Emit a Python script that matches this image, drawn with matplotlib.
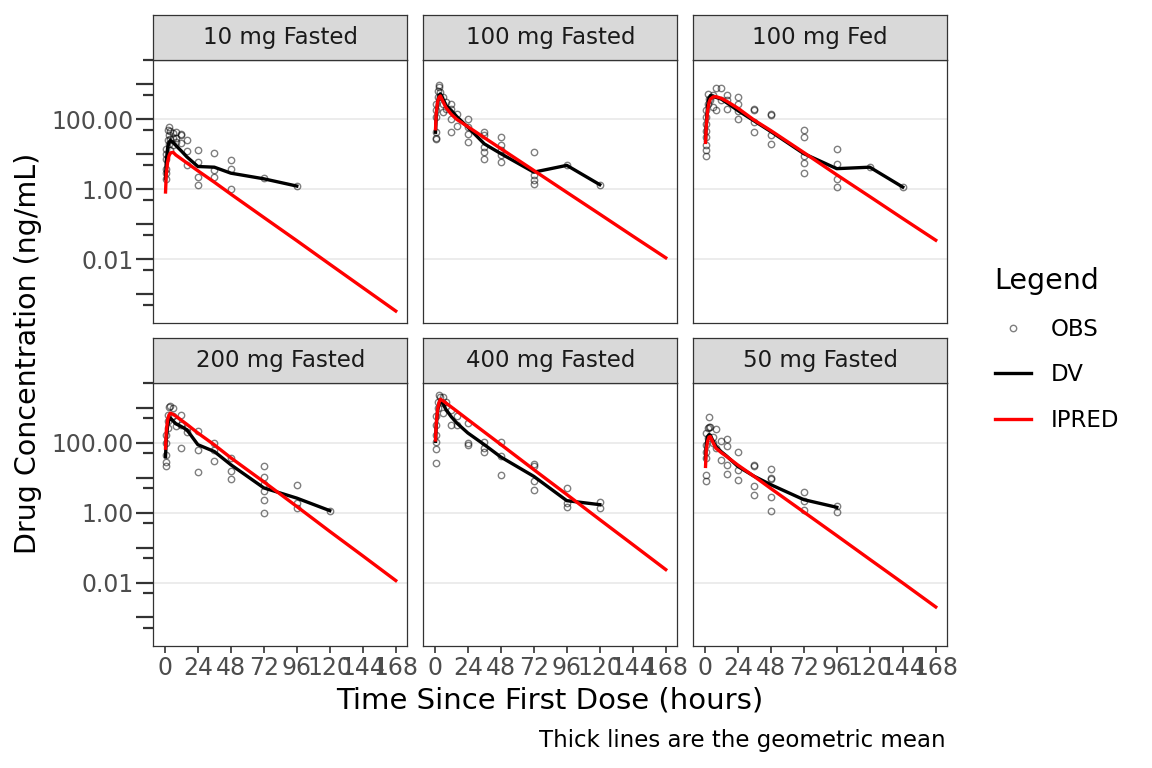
import matplotlib
matplotlib.use('Agg')
import matplotlib.pyplot as plt
from matplotlib.lines import Line2D

# facet order as in the reference
panels = ['10 mg Fasted', '100 mg Fasted', '100 mg Fed',
          '200 mg Fasted', '400 mg Fasted', '50 mg Fasted']

x_ticks = [0, 24, 48, 72, 96, 120, 144, 168]
y_labelled = [0.01, 1, 100]
y_decades = [1e-3, 1e-2, 1e-1, 1, 10, 100, 1000]
y_halves = [5e-4, 5e-3, 5e-2, 0.5, 5, 50, 500, 5000]

# individual predictions (geometric mean), common time grid
ipred_time = [0.5, 1, 2, 3, 4, 6, 8, 12, 16, 24, 36, 48, 72, 96, 120, 144, 168]
ipred_10_fasted = [0.84, 2.5, 6, 9, 11, 11.5, 9.6, 7.4, 5.7, 3.4, 1.6, 0.73,
                   0.157, 0.034, 0.0072, 0.00154, 0.00033]
ipred_100_fasted = [54, 150, 320, 430, 470, 320, 220, 140, 100, 62, 30, 14.6,
                    3.47, 0.82, 0.195, 0.046, 0.011]
ipred_100_fed = [22, 60, 180, 300, 380, 440, 450, 400, 330, 210, 95, 48,
                 11.3, 2.6, 0.62, 0.146, 0.035]
ipred_200_fasted = [70, 200, 450, 620, 700, 650, 575, 440, 336, 190, 87, 37,
                    7.6, 1.5, 0.29, 0.058, 0.0114]
ipred_400_fasted = [120, 350, 900, 1400, 1750, 1580, 1380, 1050, 800, 460, 202, 89,
                    17, 3.3, 0.63, 0.122, 0.0235]
ipred_50_fasted = [21, 60, 110, 145, 150, 100, 70, 52, 40, 23, 10.8, 4.9,
                   1.04, 0.22, 0.046, 0.0097, 0.002]

# observed geometric mean (DV), truncated at last observation
dv_time = [0.5, 1, 2, 3, 4, 6, 8, 12, 16, 24, 36, 48, 72, 96, 120, 144]
dv_10_fasted = [2.0, 6, 15, 22, 25, 22, 18, 12.5, 8.5, 4.5, 4.3, 2.9, 2.0, 1.24]
dv_100_fasted = [43, 120, 300, 480, 540, 380, 250, 180, 120, 60, 20, 10.5, 3.1, 4.85, 1.36]
dv_100_fed = [25, 70, 250, 400, 480, 470, 430, 380, 300, 180, 90, 45, 10.5, 3.9, 4.3, 1.16]
dv_200_fasted = [40, 120, 300, 450, 510, 420, 350, 290, 235, 88, 56, 23.5, 5.1, 2.6, 1.14]
dv_400_fasted = [110, 300, 800, 1300, 1700, 1300, 900, 550, 365, 190, 88, 39, 10.9, 2.2, 1.69]
dv_50_fasted = [36, 90, 150, 170, 165, 110, 78, 55, 41, 21, 10.9, 6.3, 2.35, 1.42]

# individual observations (time, concentration)
obs_10_fasted = [(0.5, 2.0), (0.5, 3.9), (0.5, 3.0), (1, 7.5), (1, 14.5), (1, 10),
                 (2, 25), (2, 51), (3, 20), (3, 35), (3, 60), (4, 48), (4, 13), (4, 28),
                 (6, 30), (6, 40), (6, 18), (8, 22.5), (8, 45), (8, 30), (12, 35), (12, 21),
                 (12, 39), (16, 25), (16, 12.2), (16, 4.85), (24, 13.6), (24, 6), (24, 2.2),
                 (24, 1.3), (36, 11.2), (36, 3.65), (36, 2.2), (48, 6.7), (48, 3.7),
                 (48, 1.05), (72, 2.06), (96, 1.24)]
obs_100_fasted = [(0.5, 43), (0.5, 28), (0.5, 29), (1, 180), (1, 280), (1, 120),
                  (2, 430), (2, 670), (3, 840), (3, 935), (4, 430), (4, 600), (6, 280),
                  (6, 160), (6, 430), (8, 310), (8, 200), (12, 280), (12, 200), (12, 105),
                  (12, 43), (16, 145), (16, 67), (24, 105), (24, 39), (24, 22.5), (24, 60),
                  (36, 43), (36, 35), (36, 16), (36, 11.6), (36, 7.5), (48, 31), (48, 18),
                  (48, 13), (48, 9.4), (48, 6), (72, 11.6), (72, 2.5), (72, 1.8),
                  (72, 1.45), (96, 4.85), (120, 1.36)]
obs_100_fed = [(0.5, 8.8), (0.5, 13), (0.5, 18), (0.5, 31), (1, 48), (1, 75), (1, 117),
               (1, 180), (2, 280), (2, 540), (3, 390), (4, 350), (6, 225), (6, 500),
               (8, 800), (8, 180), (12, 800), (12, 350), (16, 485), (16, 200), (16, 350),
               (24, 430), (24, 280), (24, 170), (24, 105), (36, 200), (36, 84), (36, 43),
               (36, 190), (48, 145), (48, 35), (48, 20), (48, 130), (72, 51), (72, 31),
               (72, 8.8), (72, 5.8), (72, 2.9), (96, 14.6), (96, 5.2), (96, 2.0),
               (96, 1.16), (120, 4.3), (144, 1.16)]
obs_200_fasted = [(0.5, 21), (0.5, 29), (0.5, 45), (1, 98), (1, 170), (2, 265), (2, 410),
                  (2, 630), (3, 1020), (4, 1100), (6, 980), (6, 600), (8, 410), (8, 300),
                  (12, 630), (12, 330), (12, 70), (16, 265), (16, 200), (24, 210), (24, 63),
                  (24, 15), (36, 98), (36, 63), (36, 30.6), (48, 36.5), (48, 15.8),
                  (48, 9.2), (72, 21), (72, 10.4), (72, 6.7), (72, 4.1), (72, 2.25),
                  (72, 1.0), (96, 6.3), (96, 1.9), (96, 1.36), (120, 1.14)]
obs_400_fasted = [(0.5, 27), (0.5, 67), (0.5, 108), (1, 170), (1, 330), (1, 565),
                  (2, 980), (2, 1500), (3, 2350), (4, 2100), (6, 2050), (6, 1370),
                  (6, 710), (8, 1500), (12, 880), (12, 330), (16, 565), (16, 330),
                  (24, 365), (24, 98), (24, 88), (36, 108), (36, 70), (36, 53), (48, 108),
                  (48, 41), (48, 12.2), (72, 25), (72, 21), (72, 7.8), (72, 4.3), (96, 5.1),
                  (96, 1.9), (96, 1.45), (120, 1.97), (120, 1.36)]
obs_50_fasted = [(0.5, 7.8), (0.5, 12.2), (0.5, 36.5), (1, 56), (1, 88), (1, 190),
                 (2, 265), (2, 137), (3, 530), (3, 290), (4, 290), (6, 150), (6, 100),
                 (8, 245), (8, 70), (12, 114), (12, 33), (16, 130), (16, 82), (16, 23.5),
                 (16, 13), (24, 56), (24, 17), (24, 8.4), (36, 23.5), (36, 21), (36, 5.6),
                 (36, 3.1), (48, 17.6), (48, 9.8), (48, 9.0), (48, 2.8), (48, 1.14),
                 (72, 3.8), (72, 2.1), (72, 1.2), (96, 1.5), (96, 1.05)]

obs = [obs_10_fasted, obs_100_fasted, obs_100_fed,
       obs_200_fasted, obs_400_fasted, obs_50_fasted]
dv = [dv_10_fasted, dv_100_fasted, dv_100_fed,
      dv_200_fasted, dv_400_fasted, dv_50_fasted]
ipred = [ipred_10_fasted, ipred_100_fasted, ipred_100_fed,
         ipred_200_fasted, ipred_400_fasted, ipred_50_fasted]

W, H = 1152, 768
fig = plt.figure(figsize=(W / 100, H / 100), dpi=100)


def box(x, y, w, h):
    return [x / W, 1 - (y + h) / H, w / W, h / H]


col_left = [153.3, 423.3, 693.3]
row_top = [60, 383.3]
pw, ph, sh = 254, 262.5, 45
edge = '#333333'

for i, name in enumerate(panels):
    r, c = divmod(i, 3)
    ax = fig.add_axes(box(col_left[c], row_top[r], pw, ph))
    ax.set_yscale('log')
    ax.set_xlim(-8.4, 176.4)
    ax.set_ylim(10 ** -3.81, 10 ** 3.70)
    for g in y_labelled:
        ax.axhline(g, color='#EBEBEB', lw=1.3, zorder=0)

    ot = [p[0] for p in obs[i]]
    oc = [p[1] for p in obs[i]]
    ax.plot(ot, oc, ls='none', marker='o', ms=4.6, mfc='none',
            mec=(0, 0, 0, 0.5), mew=1.0, zorder=2)
    ax.plot(dv_time[:len(dv[i])], dv[i], color='black', lw=2.4, zorder=3)
    ax.plot(ipred_time, ipred[i], color='#FF0000', lw=2.4, zorder=4)

    for s in ax.spines.values():
        s.set_color(edge)
        s.set_linewidth(0.9)

    ax.set_xticks(x_ticks)
    ax.set_yticks(y_decades)
    ax.set_yticks(y_halves, minor=True)
    ax.set_yticklabels(['%.2f' % v if v in y_labelled else '' for v in y_decades])
    ax.tick_params(axis='y', which='major', length=12, width=1.6, color=edge,
                   labelsize=17, labelcolor='#4D4D4D', pad=2)
    ax.tick_params(axis='y', which='minor', length=7.5, width=1.6, color=edge,
                   labelleft=False)
    ax.tick_params(axis='x', length=5, width=1.2, color=edge,
                   labelsize=17, labelcolor='#4D4D4D', pad=2)
    if c > 0:
        ax.tick_params(axis='y', which='both', left=False, labelleft=False)
    if r == 0:
        ax.tick_params(axis='x', bottom=False, labelbottom=False)

    st = fig.add_axes(box(col_left[c], row_top[r] - sh, pw, sh))
    st.set_facecolor('#D9D9D9')
    st.set_xticks([])
    st.set_yticks([])
    for s in st.spines.values():
        s.set_color(edge)
        s.set_linewidth(0.9)
    st.text(0.5, 0.5, name, ha='center', va='center', fontsize=16.5,
            color='#1A1A1A', transform=st.transAxes)

fig.text(550 / W, 1 - 701 / H, 'Time Since First Dose (hours)',
         ha='center', va='center', fontsize=21)
fig.text(28 / W, 1 - 353 / H, 'Drug Concentration (ng/mL)',
         ha='center', va='center', rotation=90, fontsize=20.5)
fig.text(946 / W, 1 - 740 / H, 'Thick lines are the geometric mean',
         ha='right', va='center', fontsize=16.5)

handles = [Line2D([], [], ls='none', marker='o', ms=4.6, mfc='none',
                  mec=(0, 0, 0, 0.5), mew=1.0),
           Line2D([], [], color='black', lw=2.4),
           Line2D([], [], color='#FF0000', lw=2.4)]
fig.legend(handles, ['OBS', 'DV', 'IPRED'], title='Legend',
           loc='upper left', bbox_to_anchor=(974 / W, 1 - 246 / H),
           frameon=False, fontsize=16.5, title_fontsize=20.5, labelspacing=1.0,
           handlelength=1.6, handletextpad=0.86, alignment='left')

fig.savefig('out.png', dpi=100)
